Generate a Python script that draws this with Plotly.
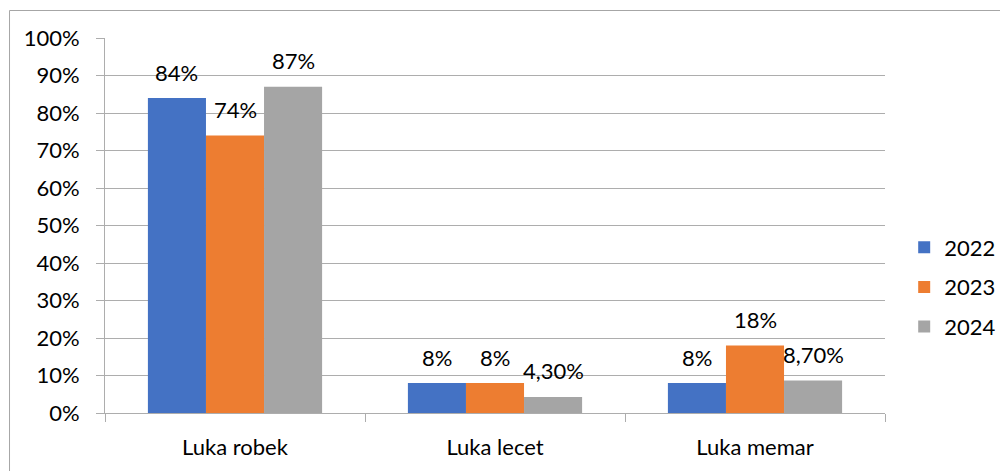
import plotly.graph_objects as go

# === Data ===
categories = ["Luka robek", "Luka lecet", "Luka memar"]
years = ["2022", "2023", "2024"]
values_2022 = [0.84, 0.08, 0.08]
values_2023 = [0.74, 0.08, 0.18]
values_2024 = [0.87, 0.043, 0.087]
labels_2022 = ["84%", "8%", "8%"]
labels_2023 = ["74%", "8%", "18%"]
labels_2024 = ["87%", "4,30%", "8,70%"]
y_ticks = [0, 0.1, 0.2, 0.3, 0.4, 0.5, 0.6, 0.7, 0.8, 0.9, 1.0]

series_values = [values_2022, values_2023, values_2024]
series_labels = [labels_2022, labels_2023, labels_2024]
colors = ["#4472C4", "#ED7D31", "#A5A5A5"]

FONT = "Lato"
FS = 22
GRID = "#ADADAD"
BARGAP = 0.33

fig = go.Figure()

for i, (yr, vals) in enumerate(zip(years, series_values)):
    fig.add_trace(go.Bar(
        x=categories, y=vals, name=yr, marker_color=colors[i],
        marker_line_width=0, legendgroup=yr,
    ))

# === Etichette dati (sopra le barre) ===
bar_w = (1 - BARGAP) / len(years)
for i, (vals, labs) in enumerate(zip(series_values, series_labels)):
    for j, (v, lab) in enumerate(zip(vals, labs)):
        fig.add_annotation(
            x=j + (i - 1) * bar_w, y=v, xref="x", yref="y",
            text=lab, showarrow=False, yanchor="middle", yshift=26,
            font=dict(family=FONT, size=FS, color="#000000"),
        )

# === Bordo del grafico ===
fig.add_shape(
    type="rect", xref="paper", yref="paper",
    x0=-0.1224, x1=1.3, y0=-0.3, y1=1.0733,
    line=dict(color="#A6A6A6", width=1), fillcolor="rgba(0,0,0,0)",
)

fig.update_layout(
    width=1000, height=463,
    barmode="group", bargap=BARGAP, bargroupgap=0,
    plot_bgcolor="#FFFFFF", paper_bgcolor="#FFFFFF",
    margin=dict(l=97, r=123, t=30, b=58, autoexpand=False),
    font=dict(family=FONT, size=FS, color="#000000"),
    showlegend=True,
    legend=dict(
        x=1.0246, xanchor="left", y=0.336, yanchor="middle",
        font=dict(family=FONT, size=FS, color="#000000"),
        tracegroupgap=8, bgcolor="rgba(0,0,0,0)",
    ),
)

fig.update_yaxes(
    range=[0, 1], tickvals=y_ticks, tickformat=".0%",
    showgrid=True, gridcolor=GRID, gridwidth=1,
    showline=True, linecolor=GRID, linewidth=1,
    ticks="outside", ticklen=8, tickcolor=GRID,
    ticklabelstandoff=12, zeroline=False,
)
fig.update_xaxes(
    showline=True, linecolor=GRID, linewidth=1,
    ticks="outside", tickson="boundaries", ticklen=8, tickcolor=GRID,
    ticklabelstandoff=15, showgrid=False,
)

fig.write_html("out.html")
